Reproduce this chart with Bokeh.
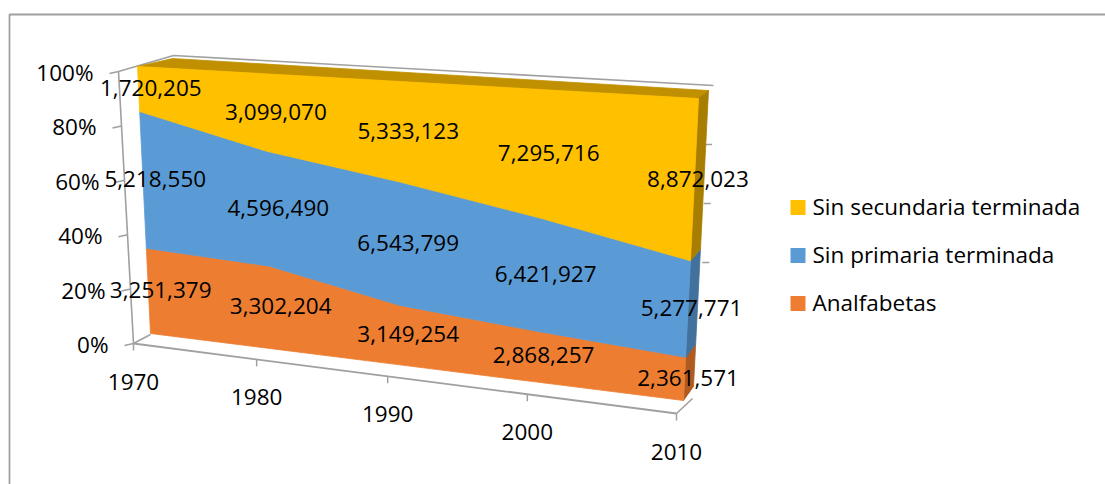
import numpy as np
from bokeh.plotting import figure
from bokeh.models import Range1d
from bokeh.core.properties import value
from bokeh.embed import file_html
from bokeh.resources import INLINE

# ---------------- data ----------------
years = [1970, 1980, 1990, 2000, 2010]
year_labels = ["1970", "1980", "1990", "2000", "2010"]
analfabetas = [3251379, 3302204, 3149254, 2868257, 2361571]
sin_primaria = [5218550, 4596490, 6543799, 6421927, 5277771]
sin_secundaria = [1720205, 3099070, 5333123, 7295716, 8872023]
series_names = ["Analfabetas", "Sin primaria terminada", "Sin secundaria terminada"]
pct_ticks = [0, 20, 40, 60, 80, 100]
pct_labels = ["0%", "20%", "40%", "60%", "80%", "100%"]

# ---------------- styles ----------------
front_colors = ["#ED7D31", "#5B9BD5", "#FFC000"]
side_colors = ["#AE5A21", "#41719C", "#A87E00"]
top_color = "#C09000"
line_gray = "#A0A0A0"
FONT = value("Open Sans")
FS = "22.5px"
TXT_DY = -8  # compensation for text baseline placement

# ---------------- 3D projection geometry (page pixel space) ----------------
W, H = 1105, 484
FBL = np.array([150.0, 333.0]); FBR = np.array([683.0, 400.0])
FTL = np.array([137.0, 66.0]);  FTR = np.array([698.0, 98.0])
K = -0.12
AX0 = np.array([133.0, 343.0]); AX1 = np.array([676.0, 413.0])   # floor front edge
LAX0 = np.array([133.0, 343.0]); LAX1 = np.array([118.0, 71.0])  # vertical axis
WALL_BL = np.array([173.0, 55.0]); WALL_BR = np.array([713.0, 85.0])
RW0 = np.array([706.0, 380.0]); RW1 = np.array([713.0, 85.0])


def u_of(year):
    t = (year - years[0]) / (years[-1] - years[0])
    return t * (1 + K) / (1 + K * t)


def front(u, p):
    b = FBL + u * (FBR - FBL)
    t = FTL + u * (FTR - FTL)
    return b + p * (t - b)


def depth(u, p):
    return np.array([35 + (10 - 35) * u, -14 + 6 * p])


series = [analfabetas, sin_primaria, sin_secundaria]
tot = np.array(analfabetas, float) + np.array(sin_primaria, float) + np.array(sin_secundaria, float)
cum = [np.zeros(len(years))]
for s in series:
    cum.append(cum[-1] + np.array(s, float) / tot)
us = [u_of(y) for y in years]

p = figure(width=W, height=H, x_range=Range1d(0, W), y_range=Range1d(H, 0),
           x_axis_type=None, y_axis_type=None, toolbar_location=None,
           output_backend="svg", min_border=0, outline_line_color=None,
           background_fill_color="white", border_fill_color="white")
p.grid.visible = False

# chart-area border (left and top edges visible)
p.line([9, 9, W + 20], [H + 20, 14, 14], line_color=line_gray, line_width=1.8)

# walls (top edges) and right wall tick stubs
p.line([LAX1[0], WALL_BL[0], WALL_BR[0]], [LAX1[1], WALL_BL[1], WALL_BR[1]],
       line_color=line_gray, line_width=1.6)
stub_x, stub_y = [], []
for t in pct_ticks[2:5]:
    r = RW0 + t / 100 * (RW1 - RW0)
    stub_x.append([r[0] - 7, r[0]]); stub_y.append([r[1], r[1]])
p.multi_line(stub_x, stub_y, line_color=line_gray, line_width=1.5)

# floor
p.line([AX0[0], AX0[0] + 17], [AX0[1], AX0[1] - 9], line_color=line_gray, line_width=1.6)
p.line([AX1[0], AX1[0] + 16], [AX1[1], AX1[1] - 15], line_color=line_gray, line_width=1.6)
p.line([AX0[0], AX1[0]], [AX0[1], AX1[1]], line_color=line_gray, line_width=1.8)
tx, ty = [], []
for u in us:
    a = AX0 + u * (AX1 - AX0)
    tx.append([a[0], a[0]]); ty.append([a[1], a[1] + 7])
p.multi_line(tx, ty, line_color=line_gray, line_width=1.5)

# top face of the solid
tl_b = FTL + depth(0, 1); tr_b = FTR + depth(1, 1)
p.patch([FTL[0], FTR[0], tr_b[0], tl_b[0]], [FTL[1], FTR[1], tr_b[1], tl_b[1]],
        fill_color=top_color, line_color=top_color, line_width=0.8)

# side faces (right end) and front faces
side_xs, side_ys, front_xs, front_ys = [], [], [], []
for i in range(3):
    lo, hi = cum[i][-1], cum[i + 1][-1]
    f0, f1 = front(1, lo), front(1, hi)
    b0, b1 = f0 + depth(1, lo), f1 + depth(1, hi)
    side_xs.append([f0[0], f1[0], b1[0], b0[0]]); side_ys.append([f0[1], f1[1], b1[1], b0[1]])
    pts = [front(u, cum[i][k]) for k, u in enumerate(us)] + \
          [front(u, cum[i + 1][k]) for k, u in reversed(list(enumerate(us)))]
    front_xs.append([q[0] for q in pts]); front_ys.append([q[1] for q in pts])
p.patches(side_xs, side_ys, fill_color=side_colors, line_color=side_colors, line_width=0.8)
p.patches(front_xs, front_ys, fill_color=front_colors, line_color=front_colors, line_width=0.8)

# vertical axis
p.line([LAX0[0], LAX1[0]], [LAX0[1], LAX1[1]], line_color=line_gray, line_width=1.6)
vx, vy, lx, ly = [], [], [], []
for t in pct_ticks:
    a = LAX0 + t / 100 * (LAX1 - LAX0)
    vx.append([a[0], a[0] - 9]); vy.append([a[1], a[1] + 2])
    lx.append(a[0] - 25); ly.append(a[1] + 9 + TXT_DY)
p.multi_line(vx, vy, line_color=line_gray, line_width=1.5)
p.text(x=lx, y=ly, text=pct_labels, text_font=FONT, text_font_size=FS,
       text_align="right", text_baseline="alphabetic", text_color="black")

# category labels
cx, cy = [], []
for u in us:
    a = AX0 + u * (AX1 - AX0)
    cx.append(a[0]); cy.append(a[1] + 46 + TXT_DY)
p.text(x=cx, y=cy, text=year_labels, text_font=FONT, text_font_size=FS,
       text_align="center", text_baseline="alphabetic", text_color="black")

# data labels
dlx, dly, dlt = [], [], []
for i, s in enumerate(series):
    for k, u in enumerate(us):
        pm = (cum[i][k] + cum[i + 1][k]) / 2
        q = front(u, pm) + depth(u, pm) * np.array([0.35, 0.1])
        dlx.append(q[0]); dly.append(q[1] + 8 + TXT_DY); dlt.append(f"{s[k]:,}")
p.text(x=dlx, y=dly, text=dlt, text_font=FONT, text_font_size=FS,
       text_align="center", text_baseline="alphabetic", text_color="black")

# legend
leg_names = series_names[::-1]
leg_colors = front_colors[::-1]
leg_y = [207, 255, 303]
p.rect(x=[797.5] * 3, y=leg_y, width=15, height=15, fill_color=leg_colors, line_color=None)
p.text(x=[812] * 3, y=[v + 7 + TXT_DY for v in leg_y], text=leg_names, text_font=FONT,
       text_font_size=FS, text_align="left", text_baseline="alphabetic", text_color="black")

open("out.html", "w").write(file_html(p, INLINE))
